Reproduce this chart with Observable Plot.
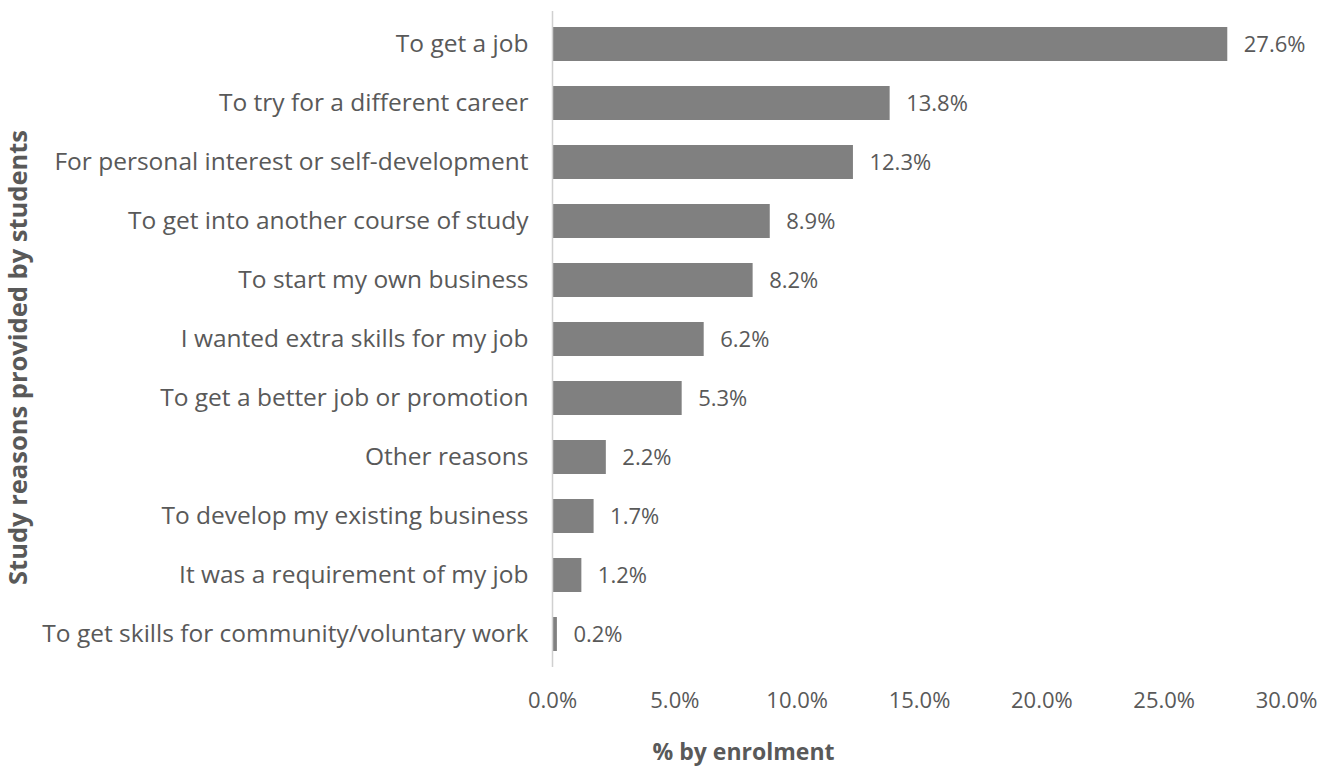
<!DOCTYPE html>
<html>
<head>
<meta charset="utf-8">
<script src="https://cdn.jsdelivr.net/npm/d3@7"></script>
<script src="https://cdn.jsdelivr.net/npm/@observablehq/plot@0.6"></script>
<style>
  html, body { margin: 0; padding: 0; background: #fff; }
  #chart svg { display: block; }
</style>
</head>
<body>
<div id="chart"></div>
<script>
const reasons = [
  "To get a job",
  "To try for a different career",
  "For personal interest or self-development",
  "To get into another course of study",
  "To start my own business",
  "I wanted extra skills for my job",
  "To get a better job or promotion",
  "Other reasons",
  "To develop my existing business",
  "It was a requirement of my job",
  "To get skills for community/voluntary work"
];
const shares = [27.6, 13.8, 12.3, 8.9, 8.2, 6.2, 5.3, 2.2, 1.7, 1.2, 0.2];
const xTicks = [0, 5, 10, 15, 20, 25, 30];

const data = reasons.map((r, i) => ({reason: r, value: shares[i]}));
const FONT = "'Open Sans', sans-serif";

const chart = Plot.plot({
  width: 1321,
  height: 771,
  marginLeft: 552,
  marginRight: 35,
  marginTop: 11,
  marginBottom: 104,
  style: {fontFamily: FONT, fontSize: "22px", color: "#595959", background: "#fff"},
  x: {domain: [0, 30]},
  y: {domain: reasons, paddingInner: 0.43, paddingOuter: 0.215},
  marks: [
    Plot.barX(data, {x: "value", y: "reason", fill: "#808080"}),
    Plot.ruleX([0], {stroke: "#d0d0d0", strokeWidth: 1.5}),
    Plot.text(data, {x: "value", y: "reason", text: d => d.value.toFixed(1) + "%", textAnchor: "start", dx: 16, fill: "#595959", fontSize: 22}),
    Plot.axisX({ticks: xTicks, tickFormat: d => d.toFixed(1) + "%", tickSize: 0, tickPadding: 25, label: null, fontSize: 22}),
    Plot.axisY({tickSize: 0, tickPadding: 24, label: null, fontSize: 24.5}),
    Plot.text(["% by enrolment"], {frameAnchor: "bottom", dx: -176, dy: 92, fontWeight: "bold", fontSize: 23, fill: "#595959"}),
    Plot.text(["Study reasons provided by students"], {frameAnchor: "left", textAnchor: "middle", dx: -534, dy: 18, rotate: -90, fontWeight: "bold", fontSize: 25.5, fill: "#595959"})
  ]
});
document.getElementById("chart").appendChild(chart);
</script>
</body>
</html>
